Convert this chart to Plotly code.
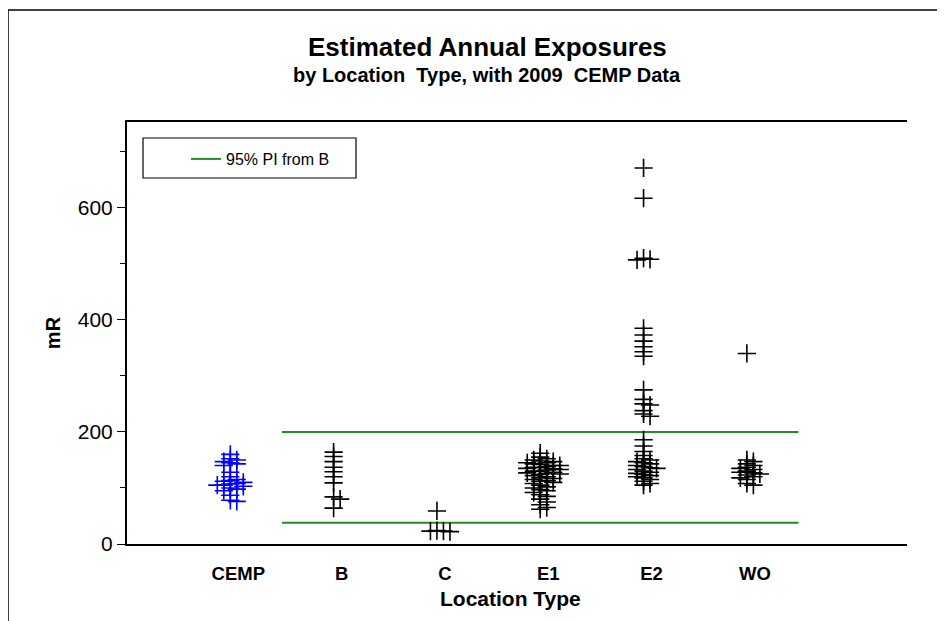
import plotly.graph_objects as go

# category labels and their x positions on the axis
categories = ["CEMP", "B", "C", "E1", "E2", "WO"]
cat_pos = [1, 2, 3, 4, 5, 6]

# estimated annual exposures (mR)
cemp = [160, 152, 150, 147, 145, 143, 140, 128, 120, 115, 113, 112, 110, 108,
        107, 105, 105, 103, 100, 98, 95, 87, 78, 76]
b_vals = [164, 156, 147, 137, 129, 120, 109, 84, 80, 64]
c_vals = [59, 24, 23, 23, 22]
e1_vals = [162, 155, 152, 150, 148, 147, 145, 145, 143, 142, 140, 140, 138, 137,
           136, 135, 134, 133, 132, 130, 130, 128, 127, 126, 125, 124, 122, 120,
           118, 117, 115, 113, 112, 110, 108, 105, 102, 100, 97, 95, 92, 88, 85,
           80, 75, 70, 65, 62]
e2_vals = [671, 617, 510, 508, 507, 385, 373, 362, 352, 343, 335, 275, 258, 250,
           248, 238, 232, 228, 186, 175, 165, 158, 152, 150, 147, 145, 143, 140,
           138, 136, 135, 133, 130, 128, 126, 124, 122, 120, 118, 115, 112, 108, 105]
wo_vals = [340, 150, 147, 143, 140, 137, 135, 133, 130, 128, 127, 125, 123, 120,
           118, 115, 108, 105]

# 95% prediction interval from B
pi_upper = 200
pi_lower = 38
pi_span = [1.5, 6.5]

groups = [cemp, b_vals, c_vals, e1_vals, e2_vals, wo_vals]


def swarm(values, center, step=0.063, tol=6):
    # spread near-equal values sideways so the crosses don't stack exactly
    order = sorted(range(len(values)), key=lambda i: -values[i])
    slots_seq = [0, 1, -1, 2, -2, 3, -3, 4, -4]
    placed = []
    xs = [0.0] * len(values)
    for i in order:
        used = {s for v, s in placed if abs(v - values[i]) < tol}
        slot = next(s for s in slots_seq if s not in used)
        placed.append((values[i], slot))
        xs[i] = center + slot * step
    return xs


fig = go.Figure()

fig.add_trace(go.Scatter(
    x=[pi_span[0], pi_span[1], None, pi_span[0], pi_span[1]],
    y=[pi_upper, pi_upper, None, pi_lower, pi_lower],
    mode="lines", line=dict(color="#1f8f1f", width=2),
    name="95% PI from B", showlegend=True,
))

for vals, pos, name in zip(groups, cat_pos, categories):
    color = "#0000ff" if name == "CEMP" else "#000000"
    fig.add_trace(go.Scatter(
        x=swarm(vals, pos), y=vals, mode="markers", name=name, showlegend=False,
        marker=dict(symbol="cross-thin-open", size=13, color=color,
                    line=dict(color=color, width=1.6)),
    ))

# page body adds an 8px margin, so work in screen pixels and shift
OFF = 8
W, H = 945 - OFF, 621 - OFF
L, T = 127 - OFF, 122 - OFF
R, B = W - (907 - OFF), H - (544 - OFF)
pw, ph = W - L - R, H - T - B


def px(x):
    return (x - OFF - L) / pw


def py(y):
    return (H - B - (y - OFF)) / ph


font = "Liberation Sans, Arial, sans-serif"

fig.update_layout(
    width=W, height=H,
    margin=dict(l=L, r=R, t=T, b=B),
    paper_bgcolor="white", plot_bgcolor="white",
    font=dict(family=font, color="black"),
    showlegend=True,
    legend=dict(x=px(186), y=py(159), xanchor="left", yanchor="middle",
                bgcolor="rgba(0,0,0,0)", borderwidth=0,
                font=dict(size=16, family=font)),
    xaxis=dict(range=[0, 7.55], tickvals=cat_pos,
               ticktext=["<b>%s</b>" % c for c in categories],
               showgrid=False, zeroline=False, showline=True, mirror=True,
               linecolor="black", linewidth=2, ticks="",
               tickfont=dict(size=18.5), ticklabelstandoff=12,
               ticklabelshift=8),
    yaxis=dict(range=[0, 753], tickvals=[0, 200, 400, 600],
               showgrid=False, zeroline=False, showline=True,
               linecolor="black", linewidth=2, ticks="outside", ticklen=8,
               tickcolor="black", tickfont=dict(size=21),
               minor=dict(tickvals=[100, 300, 500, 700], ticks="outside",
                          ticklen=5, tickcolor="black"),
               title=dict(text="<b>mR</b>", font=dict(size=20), standoff=12)),
)

fig.add_annotation(text="<b>Location Type</b>", xref="paper", yref="paper",
                   x=px(510), y=py(598), yanchor="middle", showarrow=False,
                   font=dict(size=21))
fig.add_annotation(text="<b>Estimated Annual Exposures</b>", xref="paper", yref="paper",
                   x=px(487), y=py(47), yanchor="middle", showarrow=False,
                   font=dict(size=26))
fig.add_annotation(text="<b>by Location\u00a0 Type, with 2009\u00a0 CEMP Data</b>",
                   xref="paper", yref="paper", x=px(487), y=py(75),
                   yanchor="middle", showarrow=False, font=dict(size=20))

# outer frame (top and left edges) and legend box
fig.add_shape(type="line", xref="paper", yref="paper", x0=px(8), y0=py(10),
              x1=px(1000), y1=py(10), line=dict(color="black", width=1.5))
fig.add_shape(type="line", xref="paper", yref="paper", x0=px(8), y0=py(10),
              x1=px(8), y1=py(700), line=dict(color="black", width=1.5))
fig.add_shape(type="rect", xref="paper", yref="paper", x0=px(143), y0=py(178),
              x1=px(356), y1=py(138), line=dict(color="black", width=1.2))

fig.write_html("out.html")
